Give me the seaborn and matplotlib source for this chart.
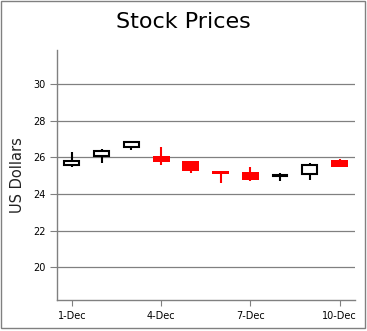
import matplotlib
matplotlib.use("Agg")
import matplotlib.pyplot as plt
import seaborn as sns
import pandas as pd
from matplotlib.patches import Rectangle

dates = ['1-Dec', '2-Dec', '3-Dec', '4-Dec', '5-Dec', '6-Dec', '7-Dec', '8-Dec', '9-Dec', '10-Dec']
open_ = [25.58, 26.09, 26.57, 26.10, 25.82, 25.27, 25.22, 25.01, 25.09, 25.88]
high = [26.32, 26.48, 26.92, 26.56, 25.82, 25.27, 25.49, 25.16, 25.71, 25.93]
low = [25.46, 25.68, 26.39, 25.57, 25.16, 24.62, 24.69, 24.73, 24.74, 25.46]
close = [25.81, 26.36, 26.82, 25.73, 25.24, 25.07, 24.74, 25.06, 25.61, 25.46]
tick_labels = ['1-Dec', '4-Dec', '7-Dec', '10-Dec']
y_ticks = [20, 22, 24, 26, 28, 30]

df = pd.DataFrame({'date': dates, 'open': open_, 'high': high, 'low': low, 'close': close})
df['x'] = range(len(df))
df['up'] = df['close'] >= df['open']

sns.set_theme(style="white")
plt.rcParams['font.family'] = ['DejaVu Sans']

fig = plt.figure(figsize=(3.67, 3.31), dpi=100)
ax = fig.add_axes([57/367, 1-300/331, 298/367, 250/331])

grey = '#808080'
for y in y_ticks:
    ax.axhline(y, color=grey, lw=0.9, zorder=1)

for _, r in df.iterrows():
    col = 'black' if r['up'] else '#ff0000'
    ax.vlines(r['x'], r['low'], r['high'], color=col, lw=1.5, zorder=2)
    lo = min(r['open'], r['close'])
    h = abs(r['close'] - r['open'])
    if r['up']:
        ax.bar(r['x'], h, bottom=lo, width=0.5, color='white', edgecolor='black',
               linewidth=1.5, zorder=3)
    else:
        ax.bar(r['x'], h, bottom=lo, width=0.57, color='#ff0000', edgecolor='none',
               linewidth=0, zorder=3)

ax.set_xlim(-0.5, 9.52)
ax.set_ylim(18.22, 31.86)
ax.set_yticks(y_ticks)
ax.set_yticklabels([str(v) for v in y_ticks], fontsize=7)
ax.set_xticks([0, 3, 6, 9])
ax.set_xticklabels(tick_labels, fontsize=7)
ax.tick_params(axis='y', direction='out', length=5, width=0.8, color=grey, pad=3, labelcolor='black')
ax.tick_params(axis='x', direction='out', length=4, width=0.8, color=grey, pad=4, labelcolor='black')
ax.tick_params(left=True, bottom=True)
for s in ['top', 'right']:
    ax.spines[s].set_visible(False)
for s in ['left', 'bottom']:
    ax.spines[s].set_color(grey)
    ax.spines[s].set_linewidth(1.0)

ax.set_ylabel('US Dollars', fontsize=10.5, color='#222222')
ax.yaxis.set_label_coords((25-57)/298, 0.5)
ax.set_xlabel('')

fig.text(183/367, 1-22/331, 'Stock Prices', fontsize=16, ha='center', va='center', color='black')
fig.patches.append(Rectangle((1/367, 3/331), 364/367, 327/331, transform=fig.transFigure,
                             fill=False, edgecolor=grey, linewidth=1.0))

fig.savefig('out.png', dpi=100)
